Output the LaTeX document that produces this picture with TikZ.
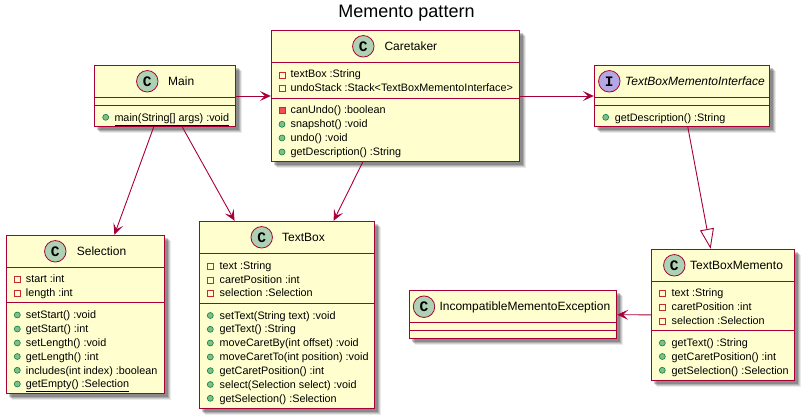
\documentclass[tikz,border=0pt]{standalone}
\usepackage{xcolor}
\usepackage{fontspec}
\setmainfont{Liberation Sans}
\setmonofont{Liberation Mono}
\usepackage{tikz}
\usetikzlibrary{arrows.meta,backgrounds}

\definecolor{umlred}{HTML}{A80036}
\definecolor{umlfill}{HTML}{FEFECE}
\definecolor{spotgreen}{HTML}{ADD1B2}
\definecolor{spotviolet}{HTML}{B4A7E5}
\definecolor{pubfill}{HTML}{84BE84}
\definecolor{publine}{HTML}{038048}
\definecolor{priline}{HTML}{C82930}
\definecolor{prifill}{HTML}{F24D5C}

\tikzset{
	classbox/.style={draw=umlred,fill=umlfill,line width=1.4pt,inner sep=0pt},
	divider/.style={draw=umlred,line width=1pt},
	spot/.style={circle,draw=umlred,line width=0.8pt,minimum size=21.5pt,inner sep=0pt,font=\fontsize{14.5}{14.5}\ttfamily\bfseries},
	classspot/.style={spot,fill=spotgreen},
	ifacespot/.style={spot,fill=spotviolet},
	classname/.style={anchor=west,inner sep=0pt,text height=8.5pt,text depth=0pt,font=\fontsize{12}{14}\selectfont},
	member/.style={anchor=west,inner sep=0pt,text height=8pt,text depth=0pt,font=\fontsize{10.8}{13}\selectfont},
	pub/.style={circle,draw=publine,fill=pubfill,line width=0.6pt,minimum size=6pt,inner sep=0pt},
	pri/.style={rectangle,draw=priline,line width=0.8pt,minimum size=6pt,inner sep=0pt},
	primethod/.style={rectangle,draw=priline,fill=prifill,line width=0.8pt,minimum size=6pt,inner sep=0pt},
	assoc/.style={draw=umlred,line width=0.9pt,-{Stealth[length=11pt,width=10pt,inset=5pt]}},
	extends/.style={draw=umlred,line width=0.9pt,-{Triangle[open,length=20pt,width=14pt]}},
}

\begin{document}
\begin{tikzpicture}[x=1pt,y=-1pt]
	\useasboundingbox (0,0) rectangle (805,419);

	\node[font=\fontsize{18}{20}\selectfont,inner sep=0pt] (title) at (406.5,13) {Memento pattern};

	% Main
	\node[classbox,minimum width=141pt,minimum height=61pt] (main) at (165,96) {};
	\draw[divider] (main.west |- 0,97.5) -- (main.east |- 0,97.5);
	\draw[divider] (main.west |- 0,105.5) -- (main.east |- 0,105.5);
	\node[classspot] (mainS) at (147.3,81.3) {C};
	\node[classname] (mainN) at (168,81.3) {Main};
	\node[pub] (mainI1) at (105.7,117.3) {};
	\node[member] (mainT1) at (114.3,117.3) {\underline{main(String[] args) :void}};

	% Caretaker
	\node[classbox,minimum width=248pt,minimum height=131pt] (caretaker) at (395.5,96) {};
	\draw[divider] (caretaker.west |- 0,62.5) -- (caretaker.east |- 0,62.5);
	\draw[divider] (caretaker.west |- 0,98.5) -- (caretaker.east |- 0,98.5);
	\node[classspot] (careS) at (363.3,46.3) {C};
	\node[classname] (careN) at (384.3,46.3) {Caretaker};
	\node[pri] (careI1) at (282,75) {};
	\node[member] (careT1) at (290.5,74) {textBox :String};
	\node[pri] (careI2) at (282,88.3) {};
	\node[member] (careT2) at (290.5,88) {undoStack :Stack<TextBoxMementoInterface>};
	\node[primethod] (careI3) at (282,110.3) {};
	\node[member] (careT3) at (290.5,110) {canUndo() :boolean};
	\node[pub] (careI4) at (282,124.3) {};
	\node[member] (careT4) at (290.5,124) {snapshot() :void};
	\node[pub] (careI5) at (282,138) {};
	\node[member] (careT5) at (290.5,137.5) {undo() :void};
	\node[pub] (careI6) at (282,152) {};
	\node[member] (careT6) at (290.5,151.5) {getDescription() :String};

	% TextBoxMementoInterface
	\node[classbox,minimum width=175pt,minimum height=61pt] (iface) at (682,96) {};
	\draw[divider] (iface.west |- 0,97.5) -- (iface.east |- 0,97.5);
	\draw[divider] (iface.west |- 0,105.5) -- (iface.east |- 0,105.5);
	\node[ifacespot] (ifaceS) at (609.3,81.3) {I};
	\node[classname] (ifaceN) at (625,81.3) {\itshape TextBoxMementoInterface};
	\node[pub] (ifaceI1) at (605.7,117.3) {};
	\node[member] (ifaceT1) at (614.7,117.3) {getDescription() :String};

	% Selection
	\node[classbox,minimum width=158pt,minimum height=158pt] (selection) at (85.5,314.5) {};
	\draw[divider] (selection.west |- 0,267.5) -- (selection.east |- 0,267.5);
	\draw[divider] (selection.west |- 0,302.5) -- (selection.east |- 0,302.5);
	\node[classspot] (selS) at (55.3,251.3) {C};
	\node[classname] (selN) at (76.7,251.3) {Selection};
	\node[pri] (selI1) at (17.3,279.5) {};
	\node[member] (selT1) at (25.7,279) {start :int};
	\node[pri] (selI2) at (17.3,293) {};
	\node[member] (selT2) at (25.7,292.3) {length :int};
	\node[pub] (selI3) at (17.3,315) {};
	\node[member] (selT3) at (25.7,314.3) {setStart() :void};
	\node[pub] (selI4) at (17.3,329) {};
	\node[member] (selT4) at (25.7,328) {getStart() :int};
	\node[pub] (selI5) at (17.3,343) {};
	\node[member] (selT5) at (25.7,342) {setLength() :void};
	\node[pub] (selI6) at (17.3,356.5) {};
	\node[member] (selT6) at (25.7,356) {getLength() :int};
	\node[pub] (selI7) at (17.3,370.3) {};
	\node[member] (selT7) at (25.7,370) {includes(int index) :boolean};
	\node[pub] (selI8) at (17.3,384) {};
	\node[member] (selT8) at (25.7,383.5) {\underline{getEmpty() :Selection}};

	% TextBox
	\node[classbox,minimum width=175pt,minimum height=187pt] (textbox) at (287,315) {};
	\draw[divider] (textbox.west |- 0,253.5) -- (textbox.east |- 0,253.5);
	\draw[divider] (textbox.west |- 0,303.5) -- (textbox.east |- 0,303.5);
	\node[classspot] (boxS) at (261.7,237.3) {C};
	\node[classname] (boxN) at (282,237.3) {TextBox};
	\node[pri] (boxI1) at (210.3,266) {};
	\node[member] (boxT1) at (219.5,265.3) {text :String};
	\node[pri] (boxI2) at (210.3,280) {};
	\node[member] (boxT2) at (219.5,279.3) {caretPosition :int};
	\node[pri] (boxI3) at (210.3,293.5) {};
	\node[member] (boxT3) at (219.5,293) {selection :Selection};
	\node[pub] (boxI4) at (210.3,315.5) {};
	\node[member] (boxT4) at (219.5,315.3) {setText(String text) :void};
	\node[pub] (boxI5) at (210.3,329.3) {};
	\node[member] (boxT5) at (219.5,328.7) {getText() :String};
	\node[pub] (boxI6) at (210.3,343) {};
	\node[member] (boxT6) at (219.5,342.3) {moveCaretBy(int offset) :void};
	\node[pub] (boxI7) at (210.3,357) {};
	\node[member] (boxT7) at (219.5,356.3) {moveCaretTo(int position) :void};
	\node[pub] (boxI8) at (210.3,370.7) {};
	\node[member] (boxT8) at (219.5,370) {getCaretPosition() :int};
	\node[pub] (boxI9) at (210.3,384.5) {};
	\node[member] (boxT9) at (219.5,384) {select(Selection select) :void};
	\node[pub] (boxI10) at (210.3,398.3) {};
	\node[member] (boxT10) at (219.5,398) {getSelection() :Selection};

	% TextBoxMemento
	\node[classbox,minimum width=143pt,minimum height=131pt] (memento) at (723,315) {};
	\draw[divider] (memento.west |- 0,281.5) -- (memento.east |- 0,281.5);
	\draw[divider] (memento.west |- 0,330.5) -- (memento.east |- 0,330.5);
	\node[classspot] (memS) at (674.3,265.3) {C};
	\node[classname] (memN) at (690,265.3) {TextBoxMemento};
	\node[pri] (memI1) at (662.3,293.5) {};
	\node[member] (memT1) at (671.5,293) {text :String};
	\node[pri] (memI2) at (662.3,307.3) {};
	\node[member] (memT2) at (671.5,306.3) {caretPosition :int};
	\node[pri] (memI3) at (662.3,321) {};
	\node[member] (memT3) at (671.5,320) {selection :Selection};
	\node[pub] (memI4) at (662.3,343) {};
	\node[member] (memT4) at (671.5,342.3) {getText() :String};
	\node[pub] (memI5) at (662.3,356.5) {};
	\node[member] (memT5) at (671.5,356.3) {getCaretPosition() :int};
	\node[pub] (memI6) at (662.3,370.3) {};
	\node[member] (memT6) at (671.5,370) {getSelection() :Selection};

	% IncompatibleMementoException
	\node[classbox,minimum width=207pt,minimum height=48pt] (exception) at (513,314.5) {};
	\draw[divider] (exception.west |- 0,322.5) -- (exception.east |- 0,322.5);
	\draw[divider] (exception.west |- 0,330.5) -- (exception.east |- 0,330.5);
	\node[classspot] (excS) at (424,306.7) {C};
	\node[classname] (excN) at (439.3,306.7) {IncompatibleMementoException};

	% relations
	\draw[assoc] (main) -- (caretaker);
	\draw[assoc] (main) -- (selection);
	\draw[assoc] (main) -- (textbox);
	\draw[assoc] (caretaker) -- (textbox);
	\draw[assoc] (caretaker) -- (iface);
	\draw[extends] (iface) -- (memento);
	\draw[assoc] (memento) -- (exception);

	% shadows
	\begin{pgfonlayer}{background}
		\foreach \b in {main,caretaker,iface,selection,textbox,memento,exception}
			\foreach \d/\o in {6/0.08,5/0.12,4/0.16,3/0.2}
				\fill[black,opacity=\o] ([shift={(\d,\d)}]\b.north west) rectangle ([shift={(\d,\d)}]\b.south east);
	\end{pgfonlayer}
\end{tikzpicture}
\end{document}
